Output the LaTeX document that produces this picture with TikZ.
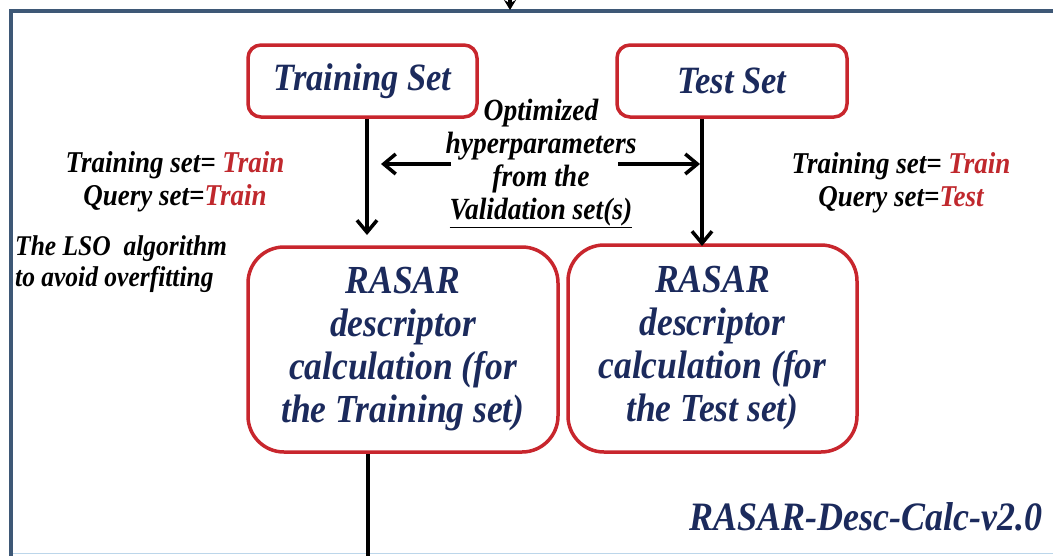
\documentclass[tikz,border=0pt]{standalone}
\usepackage{fontspec}
\setmainfont{Liberation Serif}[BoldItalicFont={Liberation Serif Bold Italic}]
\newfontfamily\bifont{Liberation Serif Bold Italic}
\usepackage{graphicx}
\usetikzlibrary{arrows.meta,calc}
\definecolor{navy}{HTML}{1B2A5C}
\definecolor{boxred}{HTML}{C8262D}
\definecolor{redtxt}{HTML}{C0282D}
\definecolor{frameblue}{HTML}{3E5876}
\definecolor{lightline}{HTML}{BCD6EA}
\newcommand{\vst}[1]{\scalebox{1}[1.12]{#1}}
\begin{document}
\begin{tikzpicture}[x=1pt,y=-1pt,
  setbox/.style={draw=boxred,line width=3.5pt,rounded corners=13pt,text=navy,inner sep=0pt},
  bigbox/.style={draw=boxred,line width=3.5pt,rounded corners=36pt,text=navy,inner sep=0pt},
  plain/.style={inner sep=0pt,text=black},
  conn/.style={line width=3.5pt,draw=black},
  arr/.style={conn,-{Straight Barb[length=12pt,width=20pt,line width=3.5pt]}}
]
\useasboundingbox (0,0) rectangle (1053,555);
\clip (0,0) rectangle (1053,555);
\fill[white] (0,0) rectangle (1053,555);
% frame
\draw[lightline,line width=1.5pt] (11,553.5) -- (1060,553.5);
\draw[frameblue,line width=4pt] (11,570) -- (11,11) -- (1070,11);
\coordinate (topin) at (510,-5);
\coordinate (topend) at (510,10);
\draw[conn,-{Stealth[length=10pt,width=12pt]}] (topin) -- (topend);

% set boxes
\node[setbox,minimum width=229pt,minimum height=72pt] (train) at (362.5,81)
  {\vst{\fontsize{34.5}{38}\bifont Training Set}};
\node[setbox,minimum width=230pt,minimum height=72pt] (test) at (732,81)
  {\vst{\fontsize{34.5}{38}\bifont Test Set}};

% RASAR boxes
\node[bigbox,minimum width=310pt,minimum height=205pt] (rtrain) at (403,349.5)
  {\vst{\fontsize{35.5}{38.5}\bifont\begin{tabular}{@{}c@{}}RASAR\\descriptor\\calculation (for\\the Training set)\end{tabular}}};
\node[bigbox,minimum width=289pt,minimum height=207pt] (rtest) at (712.5,348.5)
  {\vst{\fontsize{35.5}{38.5}\bifont\begin{tabular}{@{}c@{}}RASAR\\descriptor\\calculation (for\\the Test set)\end{tabular}}};

% middle text
\node[plain] (opt) at (541,163)
  {\vst{\fontsize{27.5}{29.5}\bifont\begin{tabular}{@{}c@{}}Optimized\\hyperparameters\\from the\\\underline{Validation set(s)}\end{tabular}}};

% side texts
\node[plain] (lq) at (175,182)
  {\vst{\fontsize{27}{29.5}\bifont\begin{tabular}{@{}c@{}}Training set= \textcolor{redtxt}{Train}\\Query set=\textcolor{redtxt}{Train}\end{tabular}}};
\node[plain] (rq) at (901,183)
  {\vst{\fontsize{27}{29.5}\bifont\begin{tabular}{@{}c@{}}Training set= \textcolor{redtxt}{Train}\\Query set=\textcolor{redtxt}{Test}\end{tabular}}};
\node[plain,anchor=west] (lso) at (15,265)
  {\vst{\fontsize{25.5}{27}\bifont\begin{tabular}{@{}l@{}}The LSO\ \ algorithm\\to avoid overfitting\end{tabular}}};

% label
\node[plain,text=navy] (ver) at (866,517)
  {\vst{\fontsize{36}{40}\bifont RASAR-Desc-Calc-v2.0}};

% connectors
\coordinate (a1) at (367,235);
\coordinate (a2) at (702,246);
\draw[arr] (train.south -| a1) -- (a1);
\draw[arr] (test.south -| a2) -- (a2);
\coordinate (lt) at (451,164);
\coordinate (lh) at (381,164);
\coordinate (rt) at (618,164);
\coordinate (rh) at (700,164);
\draw[arr] (lt) -- (lh);
\draw[arr] (rt) -- (rh);
\coordinate (bot) at (368,560);
\draw[conn] (rtrain.south -| bot) -- (bot);
\end{tikzpicture}
\end{document}
